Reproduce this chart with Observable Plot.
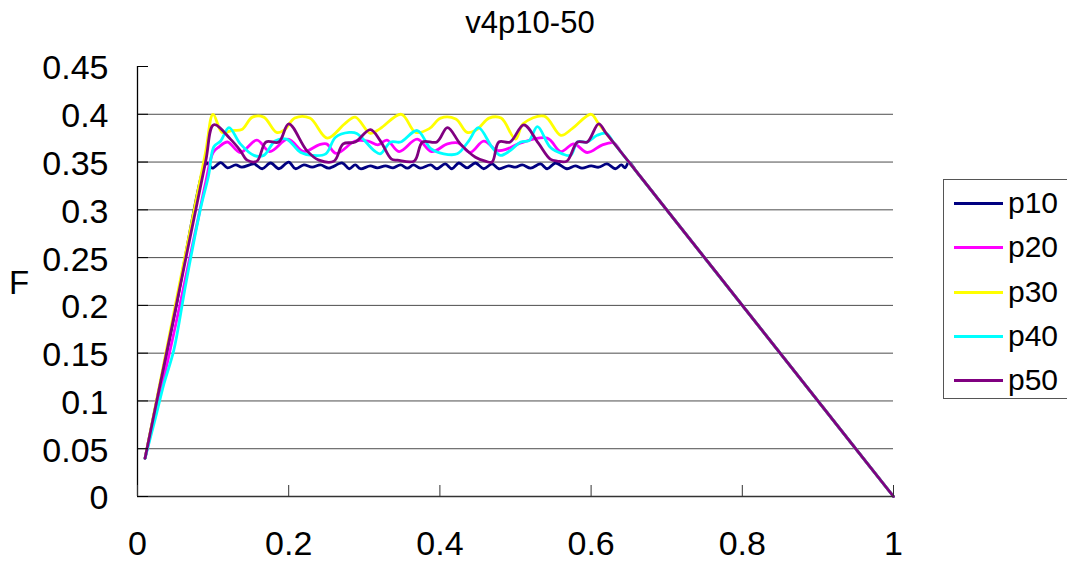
<!DOCTYPE html>
<html>
<head>
<meta charset="utf-8">
<script src="https://cdn.jsdelivr.net/npm/d3@7"></script>
<script src="https://cdn.jsdelivr.net/npm/@observablehq/plot@0.6"></script>
<style>
  html, body { margin: 0; padding: 0; background: #fff; overflow: hidden; }
  #wrap { position: relative; width: 1067px; height: 565px; overflow: hidden; font-family: "Liberation Sans", Arial, sans-serif; color: #000; }
  #title { position: absolute; left: 0; width: 1060px; top: 7px; text-align: center; font-size: 31px; line-height: 1; }
  #ylab { position: absolute; left: 9px; top: 266px; font-size: 33px; line-height: 1; }
  #legend { position: absolute; left: 943px; top: 179px; width: 126px; height: 220px; border: 1px solid #555; box-sizing: border-box; background: #fff; }
  .item { position: absolute; left: 0; height: 30px; width: 120px; }
  .sw { position: absolute; left: 10px; top: 14px; width: 49px; height: 3px; }
  .lab { position: absolute; left: 64px; top: 0; font-size: 30px; line-height: 30px; }
</style>
</head>
<body>
<div id="wrap">
  <div id="chart"></div>
  <div id="title">v4p10-50</div>
  <div id="ylab">F</div>
  <div id="legend"></div>
</div>
<script>
// ---- data ----
const seriesNames = ["p10", "p20", "p30", "p40", "p50"];
const seriesColors = ["#000080", "#FF00FF", "#FFFF00", "#00FFFF", "#800080"];
const xTicks = [0, 0.2, 0.4, 0.6, 0.8, 1];
const yTicks = [0, 0.05, 0.1, 0.15, 0.2, 0.25, 0.3, 0.35, 0.4, 0.45];
const gridValues = [0.05, 0.1, 0.15, 0.2, 0.25, 0.3, 0.35, 0.4];
const titleText = "v4p10-50";
const yLabel = "F";

const p10 = [[0.01,0.04],[0.05,0.195],[0.088,0.345],[0.092,0.349],[0.099,0.3436],[0.11,0.3495],[0.119,0.344],[0.13,0.347],[0.138,0.3446],
  [0.154,0.348],[0.165,0.343],[0.176,0.349],[0.187,0.343],[0.2,0.35],[0.209,0.343],[0.22,0.347],[0.231,0.3446],[0.242,0.347],
  [0.253,0.3436],[0.271,0.349],[0.28,0.343],[0.288,0.347],[0.295,0.343],[0.308,0.346],[0.317,0.344],[0.328,0.346],[0.338,0.344],
  [0.348,0.347],[0.357,0.3436],[0.365,0.347],[0.374,0.3436],[0.388,0.347],[0.396,0.343],[0.407,0.348],[0.416,0.343],[0.425,0.349],
  [0.436,0.344],[0.447,0.349],[0.458,0.343],[0.469,0.348],[0.478,0.343],[0.491,0.346],[0.5,0.3446],[0.509,0.347],[0.52,0.3436],
  [0.533,0.348],[0.542,0.343],[0.553,0.349],[0.568,0.343],[0.579,0.346],[0.588,0.3436],[0.6,0.346],[0.61,0.3446],[0.621,0.348],
  [0.632,0.343],[0.64,0.347],[0.645,0.344],[0.65,0.35],[0.66,0.34],[0.68,0.32],[0.7,0.3],[0.8,0.2],[0.9,0.1],[1,0]];
const p20 = [[0.01,0.04],[0.02,0.075],[0.03,0.108],[0.04,0.142],[0.05,0.178],[0.06,0.215],[0.07,0.253],[0.08,0.29],[0.09,0.328],
  [0.1,0.36],[0.108,0.366],[0.119,0.371],[0.136,0.36],[0.158,0.373],[0.175,0.361],[0.199,0.374],[0.22,0.361],[0.24,0.368],
  [0.25,0.369],[0.263,0.359],[0.288,0.372],[0.305,0.372],[0.318,0.368],[0.33,0.373],[0.346,0.361],[0.37,0.374],[0.389,0.361],
  [0.41,0.369],[0.424,0.37],[0.44,0.36],[0.458,0.372],[0.476,0.362],[0.49,0.364],[0.507,0.37],[0.542,0.375],[0.56,0.361],
  [0.577,0.369],[0.595,0.36],[0.615,0.368],[0.63,0.37],[0.64,0.36],[0.66,0.34],[0.7,0.3],[0.8,0.2],[0.9,0.1],[1,0]];
const p30 = [[0.01,0.04],[0.05,0.2],[0.09,0.36],[0.1,0.4],[0.112,0.381],[0.125,0.383],[0.138,0.384],[0.152,0.397],[0.167,0.397],
  [0.184,0.381],[0.195,0.384],[0.208,0.396],[0.228,0.396],[0.251,0.375],[0.274,0.39],[0.288,0.397],[0.308,0.38],[0.321,0.385],
  [0.349,0.4],[0.368,0.381],[0.386,0.385],[0.401,0.396],[0.421,0.395],[0.436,0.381],[0.449,0.384],[0.465,0.396],[0.481,0.396],
  [0.5,0.374],[0.51,0.39],[0.538,0.398],[0.56,0.378],[0.575,0.385],[0.6,0.4],[0.61,0.39],[0.63,0.37],[0.65,0.35],[0.7,0.3],
  [0.8,0.2],[0.9,0.1],[1,0]];
const p40 = [[0.01,0.04],[0.024,0.083],[0.035,0.118],[0.048,0.153],[0.064,0.223],[0.083,0.3],[0.094,0.336],[0.101,0.366],
  [0.11,0.372],[0.121,0.386],[0.136,0.369],[0.154,0.357],[0.167,0.357],[0.182,0.372],[0.197,0.374],[0.216,0.36],[0.231,0.357],
  [0.249,0.3586],[0.262,0.376],[0.28,0.381],[0.29,0.38],[0.313,0.362],[0.321,0.3586],[0.335,0.371],[0.348,0.371],[0.37,0.383],
  [0.388,0.364],[0.405,0.3586],[0.423,0.3586],[0.438,0.372],[0.451,0.386],[0.469,0.3655],[0.48,0.357],[0.493,0.362],[0.507,0.371],
  [0.518,0.3725],[0.529,0.387],[0.546,0.3655],[0.562,0.3586],[0.573,0.357],[0.582,0.371],[0.595,0.371],[0.608,0.378],[0.62,0.38],
  [0.63,0.37],[0.65,0.35],[0.7,0.3],[0.8,0.2],[0.9,0.1],[1,0]];
const p50 = [[0.01,0.04],[0.05,0.195],[0.09,0.35],[0.101,0.389],[0.123,0.374],[0.136,0.362],[0.145,0.352],[0.158,0.351],
  [0.17,0.371],[0.187,0.371],[0.2,0.39],[0.224,0.362],[0.24,0.352],[0.26,0.351],[0.272,0.369],[0.288,0.371],[0.308,0.384],
  [0.321,0.3725],[0.336,0.353],[0.344,0.352],[0.366,0.351],[0.377,0.371],[0.396,0.371],[0.41,0.386],[0.427,0.369],[0.447,0.355],
  [0.46,0.351],[0.469,0.35],[0.478,0.371],[0.493,0.371],[0.511,0.389],[0.53,0.37],[0.546,0.353],[0.555,0.351],[0.568,0.351],
  [0.582,0.371],[0.595,0.371],[0.61,0.39],[0.62,0.38],[0.64,0.36],[0.67,0.33],[0.7,0.3],[0.8,0.2],[0.9,0.1],[1,0]];

const seriesData = [p10, p20, p30, p40, p50];
const rows = seriesData.flatMap((pts, i) => pts.map(([x, y]) => ({series: seriesNames[i], x, y})));
const fmt = d => String(+d.toFixed(2));

const chart = Plot.plot({
  width: 1067,
  height: 565,
  marginLeft: 137,
  marginRight: 174,
  marginTop: 66,
  marginBottom: 69,
  style: {fontFamily: '"Liberation Sans", Arial, sans-serif', fontSize: "34px", color: "#000", background: "#fff", overflow: "visible"},
  x: {domain: [0, 1]},
  y: {domain: [0, 0.45]},
  color: {domain: seriesNames, range: seriesColors},
  marks: [
    Plot.ruleY(gridValues, {stroke: "#4d4d4d", strokeWidth: 1}),
    Plot.line(rows, {x: "x", y: "y", z: "series", stroke: "series", strokeWidth: 2.8, curve: "catmull-rom"}),
    Plot.ruleX([0], {stroke: "#000", strokeWidth: 1.3}),
    Plot.ruleY([0], {stroke: "#333", strokeWidth: 1.3}),
    Plot.tickY(yTicks, {y: d => d, stroke: "#000", insetRight: 745}),
    Plot.tickX(xTicks, {x: d => d, stroke: "#333", insetTop: 419}),
    Plot.axisY(yTicks, {tickSize: 0, tickPadding: 29, tickFormat: fmt, fontSize: 34, dy: 2, label: null}),
    Plot.axisX(xTicks, {tickSize: 0, tickPadding: 34, tickFormat: fmt, fontSize: 34, label: null})
  ]
});
document.getElementById("chart").appendChild(chart);
document.getElementById("title").textContent = titleText;
document.getElementById("ylab").textContent = yLabel;

const legend = document.getElementById("legend");
seriesNames.forEach((name, i) => {
  const item = document.createElement("div");
  item.className = "item";
  item.style.top = (8 + i * 44.3) + "px";
  const sw = document.createElement("div");
  sw.className = "sw";
  sw.style.background = seriesColors[i];
  const lab = document.createElement("div");
  lab.className = "lab";
  lab.textContent = name;
  item.appendChild(sw);
  item.appendChild(lab);
  legend.appendChild(item);
});
</script>
</body>
</html>
